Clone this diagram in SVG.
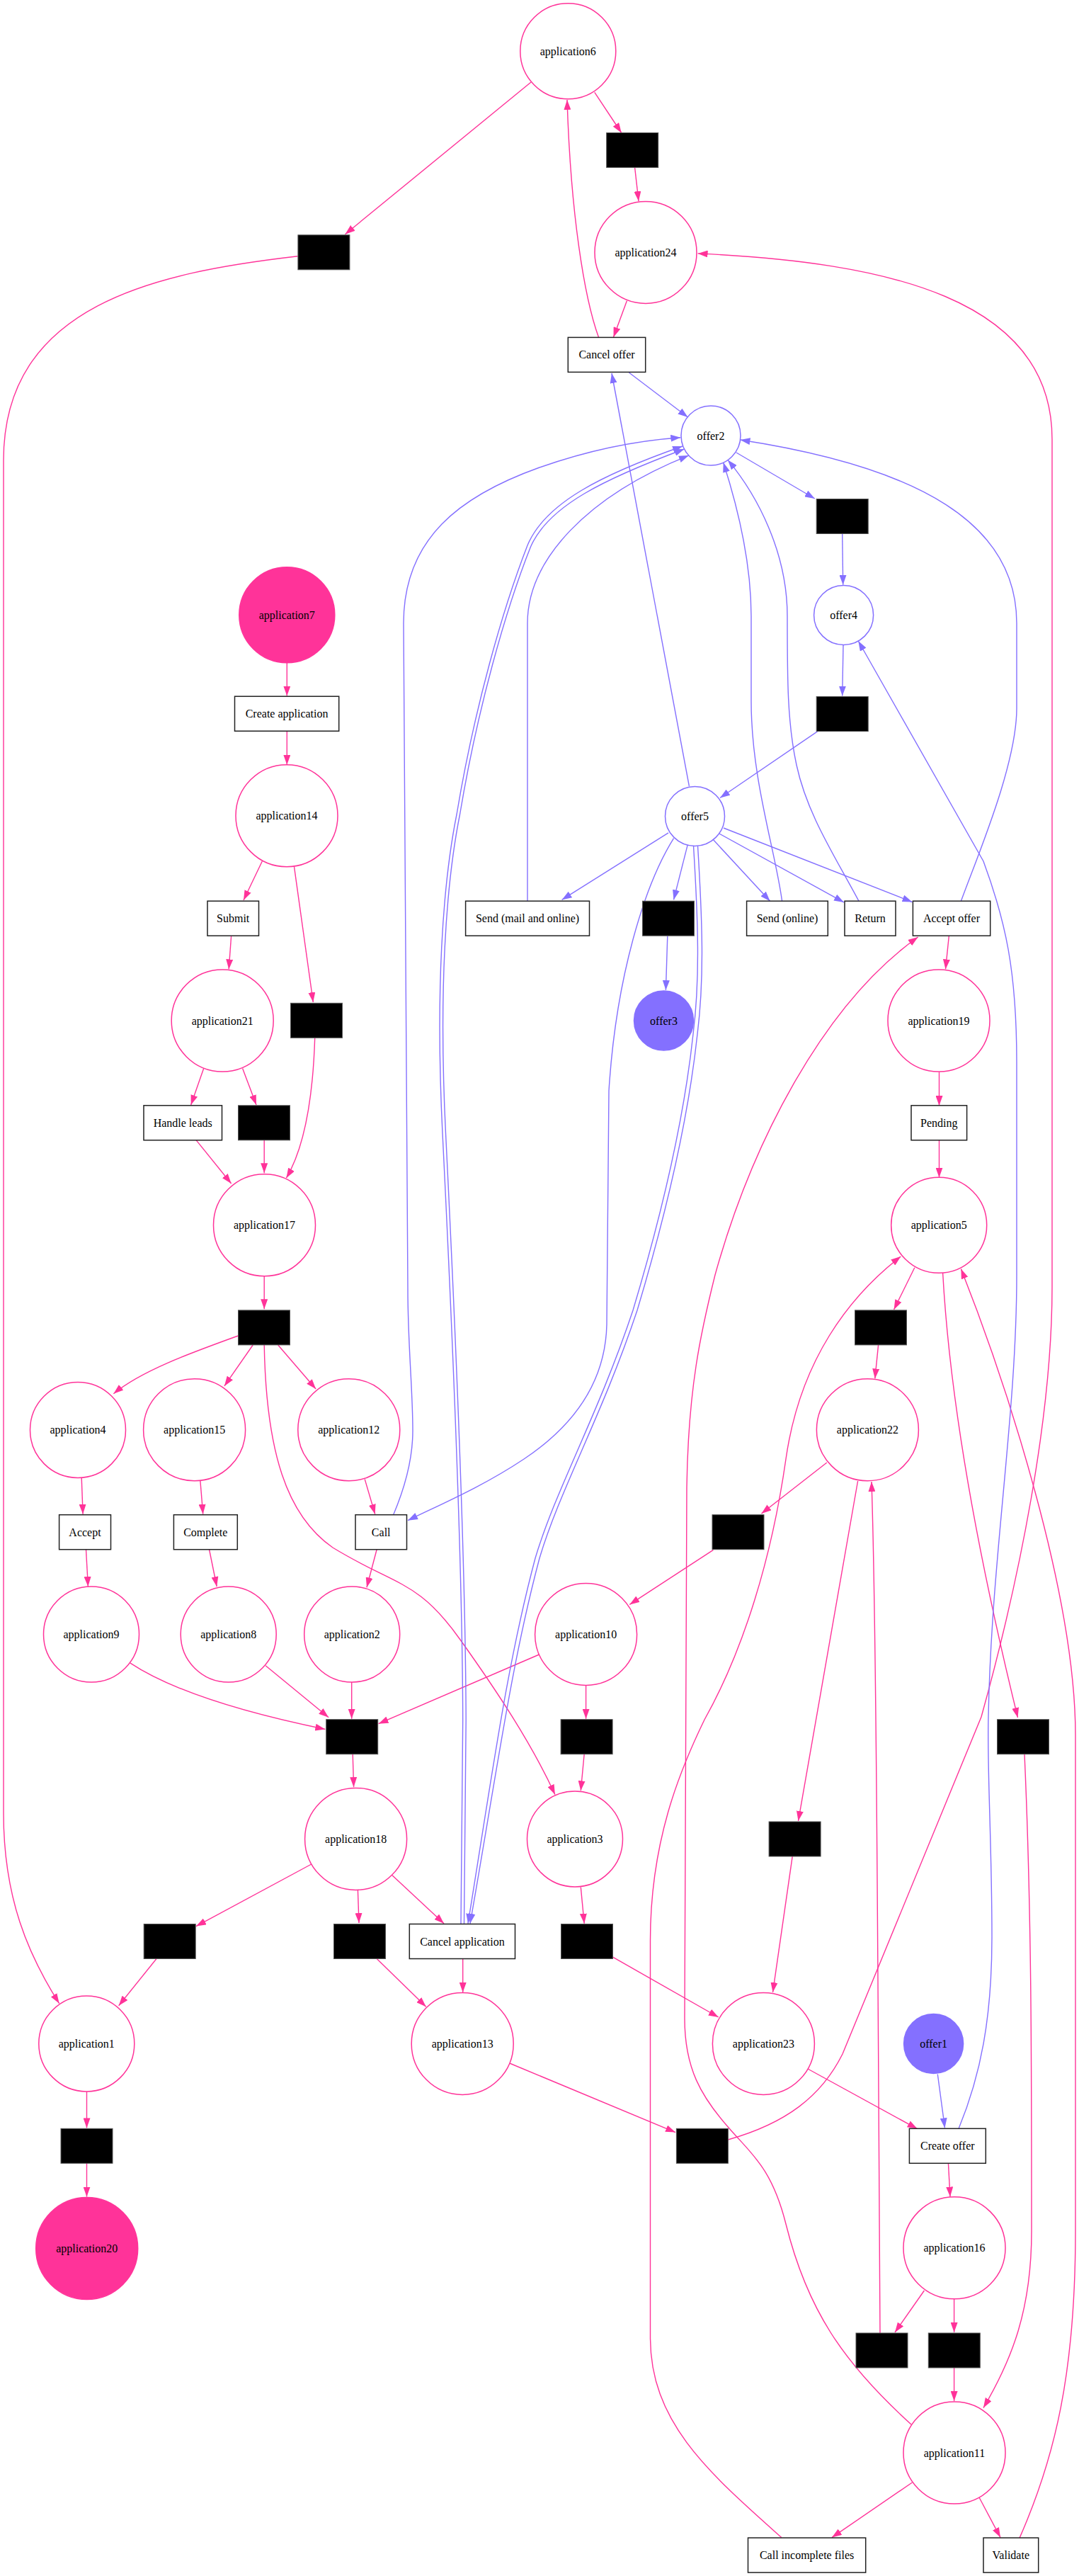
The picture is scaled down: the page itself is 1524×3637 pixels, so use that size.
<svg xmlns="http://www.w3.org/2000/svg" width="1524" height="3637" viewBox="0 0 1524 3637">
<style>
.bg{fill:#ffffff}
.p{fill:none;stroke:#ff3399;stroke-width:1.4;marker-end:url(#ap)}
.b{fill:none;stroke:#8470ff;stroke-width:1.4;marker-end:url(#ab)}
.pc{fill:#ffffff;stroke:#ff3399;stroke-width:1.5}
.pf{fill:#ff3399;stroke:#ff3399;stroke-width:1.5}
.oc{fill:#ffffff;stroke:#8470ff;stroke-width:1.5}
.of{fill:#8470ff;stroke:#8470ff;stroke-width:1.5}
.bx{fill:#ffffff;stroke:#222222;stroke-width:1.5}
.bk{fill:#000000;stroke:#555555;stroke-width:1}
.t{font-family:"Liberation Serif","Times New Roman",serif;font-size:16px;fill:#000000;text-anchor:middle;dominant-baseline:central}
</style>
<defs>
<marker id="ap" markerWidth="14" markerHeight="10" refX="14" refY="5" orient="auto" markerUnits="userSpaceOnUse" viewBox="0 0 14 10"><path d="M0,0 L14,5 L0,10 z" fill="#ff3399"/></marker>
<marker id="ab" markerWidth="14" markerHeight="10" refX="14" refY="5" orient="auto" markerUnits="userSpaceOnUse" viewBox="0 0 14 10"><path d="M0,0 L14,5 L0,10 z" fill="#8470ff"/></marker>
</defs>
<rect class="bg" x="0" y="0" width="1524" height="3637"/>
<g id="connectors">
<path class="p" d="M750,116 L487.5,330.7"/>
<path class="p" d="M839.8,130.3 L877.7,187.5"/>
<path class="p" d="M896.6,236.5 L902,284"/>
<path class="p" d="M885.4,424.8 L866.5,476"/>
<path class="p" d="M845.6,476.5 C825,420 806,300 801,141"/>
<path class="p" d="M420.4,361.8 C220,385 5,430 5,650 L5,2560 C5,2680 40,2760 83.6,2828.6"/>
<path class="p" d="M1028.3,3021 C1110,2998 1160,2960 1190,2900 L1386,2424 C1440,2230 1486,2000 1486,1818 L1486,620 C1486,420 1250,370 985.6,357.9"/>
<path class="p" d="M1287,3423 C1190,3335 1140,3260 1110,3140 C1090,3060 1060,3040 1030,3005 C990,2960 967,2920 967,2850 L970,2100 C972,1960 990,1880 1010,1800 C1060,1620 1160,1420 1296.6,1323"/>
<path class="p" d="M1103.7,3582.6 C1000,3490 918.5,3420 918.5,3300 L918.5,2740 C918.5,2600 960,2500 995,2428 C1050,2330 1090,2200 1110,2060 C1130,1920 1200,1830 1272.3,1774"/>
<path class="p" d="M1440,3583.4 C1490,3470 1519,3350 1519,3150 L1519,2450 C1519,2250 1420,1950 1357.4,1791.6"/>
<path class="p" d="M1291.8,1789.7 L1262.6,1849"/>
<path class="p" d="M1331.6,1797 C1340,1950 1370,2150 1437.5,2425"/>
<path class="p" d="M1240.6,1898.9 L1235.8,1946.4"/>
<path class="p" d="M1167.8,2065 L1075.5,2137"/>
<path class="p" d="M1007.4,2188.3 L889.3,2265.4"/>
<path class="p" d="M827.6,2379.7 L827.6,2426.8"/>
<path class="p" d="M761.5,2336 L534.6,2433.7"/>
<path class="p" d="M1211.6,2091 L1127.5,2571"/>
<path class="p" d="M1243,3294 C1240,2800 1238,2300 1231,2092"/>
<path class="p" d="M1119.2,2621.2 L1091.5,2813"/>
<path class="p" d="M1141,2921 L1295.6,3005.6"/>
<path class="p" d="M825.2,2476.5 L820.3,2528.3"/>
<path class="p" d="M373.2,1899 C376,2050 405,2140 470,2185 C560,2240 590,2230 650,2315 C700,2385 750,2460 783.9,2533.7"/>
<path class="p" d="M820.3,2664.4 L825.2,2715.8"/>
<path class="p" d="M865.5,2763.2 L1014.7,2848"/>
<path class="p" d="M719.7,2913 L954,3010.6"/>
<path class="p" d="M1339.4,3054 L1342,3101.6"/>
<path class="p" d="M1305.4,3234 L1264,3293"/>
<path class="p" d="M1347.6,3246 L1347.6,3293"/>
<path class="p" d="M1347.6,3342.7 L1347.6,3390"/>
<path class="p" d="M1447,2476.5 C1457,2700 1457,2900 1457,3150 C1457,3260 1430,3330 1389,3399.6"/>
<path class="p" d="M1288.4,3505 L1175,3582.6"/>
<path class="p" d="M1383,3526 L1413,3582.6"/>
<path class="p" d="M1340.3,1321.7 L1335.5,1368.4"/>
<path class="p" d="M1326.5,1513.5 L1326.5,1561"/>
<path class="p" d="M1326.5,1610 L1326.5,1662.5"/>
<path class="p" d="M405.3,935.9 L405.3,982.6"/>
<path class="p" d="M405.3,1032 L405.3,1079.8"/>
<path class="p" d="M370.3,1216 L344,1271"/>
<path class="p" d="M415.5,1223.7 L442.3,1415"/>
<path class="p" d="M326.6,1321.7 L323.2,1368.4"/>
<path class="p" d="M287.7,1508.4 L269.7,1560"/>
<path class="p" d="M342.6,1508.4 L362,1560"/>
<path class="p" d="M277,1609.6 L326.6,1671"/>
<path class="p" d="M373.2,1609.6 L373.2,1656.2"/>
<path class="p" d="M444.7,1465.6 C442,1550 430,1620 404.4,1663.2"/>
<path class="p" d="M373.2,1802 L373.2,1848.3"/>
<path class="p" d="M336.3,1886 C270,1910 200,1935 160.4,1967.8"/>
<path class="p" d="M357.2,1899 L316.9,1956.9"/>
<path class="p" d="M392.7,1899 L446.1,1961"/>
<path class="p" d="M115.2,2086.4 L117.1,2137.8"/>
<path class="p" d="M282.9,2091 L286.7,2137.8"/>
<path class="p" d="M515.2,2088.4 L529.7,2137.8"/>
<path class="p" d="M121.5,2187.5 L124.4,2240"/>
<path class="p" d="M295.5,2187.5 L306.2,2240"/>
<path class="p" d="M532.2,2187.5 L518,2241.2"/>
<path class="p" d="M183.7,2347.8 C240,2385 330,2415 459.3,2441.5"/>
<path class="p" d="M375.2,2351.7 L464.1,2424.8"/>
<path class="p" d="M496.7,2375 L496.7,2426.8"/>
<path class="p" d="M498.2,2476.5 L499.6,2523.2"/>
<path class="p" d="M439.8,2632 L277,2719.6"/>
<path class="p" d="M505.4,2668.3 L507,2715"/>
<path class="p" d="M554,2647.7 L627,2715.8"/>
<path class="p" d="M221,2765.5 L167.7,2831.7"/>
<path class="p" d="M653.7,2765.5 L653.7,2813"/>
<path class="p" d="M532.2,2765.5 L601.7,2833.2"/>
<path class="p" d="M122.5,2953 L122.5,3004.4"/>
<path class="p" d="M122.5,3054 L122.5,3101.6"/>
<path class="b" d="M888.4,526 L971.5,589"/>
<path class="b" d="M973.4,1109.8 L864,527"/>
<path class="b" d="M1040,639 L1150.8,704"/>
<path class="b" d="M1189.7,753.8 L1190.7,825.8"/>
<path class="b" d="M1191,911 L1189.7,982.6"/>
<path class="b" d="M1154.7,1032.7 L1017,1126.5"/>
<path class="b" d="M555.5,2139 C572,2100 583,2060 583,2020 C583,1960 576,1900 576,1820 L570,880 C570,760 650,700 762,660 C830,636 900,622 961.3,617.7"/>
<path class="b" d="M651,2716 L653.7,2428 C653,2200 640,1900 625,1600 C615,1400 625,1250 645,1150 C670,1000 710,860 745,770 C770,710 850,670 964,630"/>
<path class="b" d="M655.5,2716 L658.2,2428 C657.5,2200 644.5,1900 629.5,1600 C619.5,1400 629.5,1250 649.5,1150 C674.5,1000 714.5,860 749.5,772 C774.5,714 854,676 966.5,634"/>
<path class="b" d="M979.5,1194.3 C986,1300 989,1380 979,1460 C964,1600 924,1750 894,1850 C844,2000 786,2100 756,2200 C716,2350 696,2500 661,2715.8"/>
<path class="b" d="M985.5,1194.2 C992,1300 995,1380 985,1460 C970,1600 930,1750 900,1850 C850,2000 792,2100 762,2200 C722,2350 702,2500 664,2715.8"/>
<path class="b" d="M944,1175.9 L793.6,1270.4"/>
<path class="b" d="M745,1272.3 L745,880 C745,790 830,700 972.8,643.1"/>
<path class="b" d="M951.5,1183.7 C910,1250 870,1380 860,1540 L857,1870 C855,1960 800,2020 740,2060 C680,2100 620,2125 576,2146.7"/>
<path class="b" d="M971,1193.6 L951.5,1270.4"/>
<path class="b" d="M942.8,1321.7 L940.4,1398"/>
<path class="b" d="M1007.4,1185.6 L1087.6,1272.3"/>
<path class="b" d="M1016,1177 L1192,1274"/>
<path class="b" d="M1022,1169 L1288.4,1273.5"/>
<path class="b" d="M1104.6,1272.3 C1095,1200 1061,1100 1061,990 L1061,870 C1061,790 1040,710 1021.7,653"/>
<path class="b" d="M1213,1272.3 C1180,1210 1140,1150 1125,1080 C1112,1020 1112,960 1112,870 C1112,780 1070,700 1028,649.4"/>
<path class="b" d="M1357.4,1272.3 C1380,1210 1436,1080 1436,1000 L1436,880 C1436,740 1300,660 1045.5,621"/>
<path class="b" d="M1354,3005.6 C1385,2930 1401,2850 1401,2735 C1401,2600 1394,2500 1396,2424 C1400,2200 1436,2000 1436,1800 L1436,1500 C1436,1370 1420,1300 1389,1216 L1212.3,905"/>
<path class="b" d="M1324.3,2928.5 L1334.5,3004.4"/>
</g>
<g id="application6"><circle class="pc" cx="802.3" cy="72.3" r="67.5"/><text class="t" x="802.3" y="72.3">application6</text></g>
<g id="application24"><circle class="pc" cx="912" cy="356.4" r="72"/><text class="t" x="912" y="356.4">application24</text></g>
<g id="application7"><circle class="pf" cx="405.3" cy="868.2" r="67.5"/><text class="t" x="405.3" y="868.2">application7</text></g>
<g id="application14"><circle class="pc" cx="405" cy="1151.7" r="72"/><text class="t" x="405" y="1151.7">application14</text></g>
<g id="application21"><circle class="pc" cx="314.2" cy="1441" r="72"/><text class="t" x="314.2" y="1441">application21</text></g>
<g id="application17"><circle class="pc" cx="373.5" cy="1729.7" r="72"/><text class="t" x="373.5" y="1729.7">application17</text></g>
<g id="application19"><circle class="pc" cx="1326" cy="1441" r="72"/><text class="t" x="1326" y="1441">application19</text></g>
<g id="application5"><circle class="pc" cx="1326.2" cy="1729.8" r="67.5"/><text class="t" x="1326.2" y="1729.8">application5</text></g>
<g id="application4"><circle class="pc" cx="110" cy="2018.9" r="67.5"/><text class="t" x="110" y="2018.9">application4</text></g>
<g id="application15"><circle class="pc" cx="274.6" cy="2018.7" r="72"/><text class="t" x="274.6" y="2018.7">application15</text></g>
<g id="application12"><circle class="pc" cx="492.8" cy="2018.7" r="72"/><text class="t" x="492.8" y="2018.7">application12</text></g>
<g id="application22"><circle class="pc" cx="1225.4" cy="2018.7" r="72"/><text class="t" x="1225.4" y="2018.7">application22</text></g>
<g id="application9"><circle class="pc" cx="129" cy="2307.5" r="67.5"/><text class="t" x="129" y="2307.5">application9</text></g>
<g id="application8"><circle class="pc" cx="322.7" cy="2307.5" r="67.5"/><text class="t" x="322.7" y="2307.5">application8</text></g>
<g id="application2"><circle class="pc" cx="497.2" cy="2307.5" r="67.5"/><text class="t" x="497.2" y="2307.5">application2</text></g>
<g id="application10"><circle class="pc" cx="827.6" cy="2307.4" r="72"/><text class="t" x="827.6" y="2307.4">application10</text></g>
<g id="application18"><circle class="pc" cx="502.6" cy="2596.4" r="72"/><text class="t" x="502.6" y="2596.4">application18</text></g>
<g id="application3"><circle class="pc" cx="812" cy="2596.4" r="67.5"/><text class="t" x="812" y="2596.4">application3</text></g>
<g id="application1"><circle class="pc" cx="122.3" cy="2885.4" r="67.5"/><text class="t" x="122.3" y="2885.4">application1</text></g>
<g id="application13"><circle class="pc" cx="653.2" cy="2885.4" r="72"/><text class="t" x="653.2" y="2885.4">application13</text></g>
<g id="application23"><circle class="pc" cx="1078.4" cy="2885.4" r="72"/><text class="t" x="1078.4" y="2885.4">application23</text></g>
<g id="application20"><circle class="pf" cx="122.7" cy="3174.5" r="72"/><text class="t" x="122.7" y="3174.5">application20</text></g>
<g id="application16"><circle class="pc" cx="1348" cy="3173.8" r="72"/><text class="t" x="1348" y="3173.8">application16</text></g>
<g id="application11"><circle class="pc" cx="1348" cy="3463" r="72"/><text class="t" x="1348" y="3463">application11</text></g>
<g id="offer2"><circle class="oc" cx="1004" cy="615" r="42"/><text class="t" x="1004" y="615">offer2</text></g>
<g id="offer4"><circle class="oc" cx="1191.6" cy="868.4" r="42"/><text class="t" x="1191.6" y="868.4">offer4</text></g>
<g id="offer5"><circle class="oc" cx="981.5" cy="1152.4" r="42"/><text class="t" x="981.5" y="1152.4">offer5</text></g>
<g id="offer3"><circle class="of" cx="937.5" cy="1441" r="42"/><text class="t" x="937.5" y="1441">offer3</text></g>
<g id="offer1"><circle class="of" cx="1318.6" cy="2885.4" r="42"/><text class="t" x="1318.6" y="2885.4">offer1</text></g>
<g id="cancel_offer"><rect class="bx" x="802.3" y="476.4" width="109.4" height="49"/><text class="t" x="857" y="500.9">Cancel offer</text></g>
<g id="create_application"><rect class="bx" x="331.5" y="983.2" width="147.2" height="49"/><text class="t" x="405.1" y="1007.7">Create application</text></g>
<g id="submit"><rect class="bx" x="293" y="1272.2" width="72.5" height="49"/><text class="t" x="329.2" y="1296.7">Submit</text></g>
<g id="send_mail_online"><rect class="bx" x="657.6" y="1272.2" width="174.9" height="49"/><text class="t" x="745" y="1296.7">Send (mail and online)</text></g>
<g id="send_online"><rect class="bx" x="1054.6" y="1272.2" width="114.7" height="49"/><text class="t" x="1112" y="1296.7">Send (online)</text></g>
<g id="return"><rect class="bx" x="1193" y="1272.2" width="72" height="49"/><text class="t" x="1229" y="1296.7">Return</text></g>
<g id="accept_offer"><rect class="bx" x="1289.4" y="1272.2" width="109.3" height="49"/><text class="t" x="1344" y="1296.7">Accept offer</text></g>
<g id="handle_leads"><rect class="bx" x="203" y="1560.8" width="110.5" height="49"/><text class="t" x="258.2" y="1585.3">Handle leads</text></g>
<g id="pending"><rect class="bx" x="1287" y="1560.8" width="78.6" height="49"/><text class="t" x="1326.3" y="1585.3">Pending</text></g>
<g id="accept"><rect class="bx" x="83.6" y="2138.7" width="72.9" height="49"/><text class="t" x="120" y="2163.2">Accept</text></g>
<g id="complete"><rect class="bx" x="245.4" y="2138.7" width="89.9" height="49"/><text class="t" x="290.3" y="2163.2">Complete</text></g>
<g id="call"><rect class="bx" x="502" y="2138.7" width="72.5" height="49"/><text class="t" x="538.2" y="2163.2">Call</text></g>
<g id="cancel_application"><rect class="bx" x="578.3" y="2716.5" width="149.2" height="49"/><text class="t" x="652.9" y="2741">Cancel application</text></g>
<g id="create_offer"><rect class="bx" x="1284.4" y="3005.3" width="107.9" height="49"/><text class="t" x="1338.3" y="3029.8">Create offer</text></g>
<g id="call_incomplete_files"><rect class="bx" x="1056.5" y="3583.1" width="166.2" height="49"/><text class="t" x="1139.6" y="3607.6">Call incomplete files</text></g>
<g id="validate"><rect class="bx" x="1389" y="3583.1" width="77.7" height="49"/><text class="t" x="1427.8" y="3607.6">Validate</text></g>
<g id="t_a"><rect class="bk" x="420.9" y="331.8" width="73" height="49"/></g>
<g id="t_2"><rect class="bk" x="856.7" y="187.5" width="73" height="49"/></g>
<g id="t_3"><rect class="bk" x="1153.2" y="704.5" width="73" height="49"/></g>
<g id="t_4"><rect class="bk" x="1153.2" y="983.5" width="73" height="49"/></g>
<g id="t_5"><rect class="bk" x="907.5" y="1272.2" width="73" height="49"/></g>
<g id="t_16"><rect class="bk" x="410.5" y="1416.3" width="73" height="49"/></g>
<g id="t_17"><rect class="bk" x="336.5" y="1560.8" width="73" height="49"/></g>
<g id="t_18"><rect class="bk" x="336.5" y="1849.9" width="73" height="49"/></g>
<g id="t_6"><rect class="bk" x="1207.5" y="1849.9" width="73" height="49"/></g>
<g id="t_8"><rect class="bk" x="1006" y="2138.7" width="73" height="49"/></g>
<g id="t_10"><rect class="bk" x="460.7" y="2427.7" width="73" height="49"/></g>
<g id="t_9"><rect class="bk" x="792.1" y="2427.7" width="73" height="49"/></g>
<g id="t_7"><rect class="bk" x="1408.5" y="2427.7" width="73" height="49"/></g>
<g id="t_11"><rect class="bk" x="1086.1" y="2572" width="73" height="49"/></g>
<g id="t_19"><rect class="bk" x="203.2" y="2716.5" width="73" height="49"/></g>
<g id="t_20"><rect class="bk" x="471.5" y="2716.5" width="73" height="49"/></g>
<g id="t_13"><rect class="bk" x="792.5" y="2716.5" width="73" height="49"/></g>
<g id="t_21"><rect class="bk" x="86" y="3005.3" width="73" height="49"/></g>
<g id="t_14"><rect class="bk" x="955.4" y="3005.3" width="73" height="49"/></g>
<g id="t_12"><rect class="bk" x="1209" y="3294" width="73" height="49"/></g>
<g id="t_15"><rect class="bk" x="1311.3" y="3294" width="73" height="49"/></g>
</svg>
